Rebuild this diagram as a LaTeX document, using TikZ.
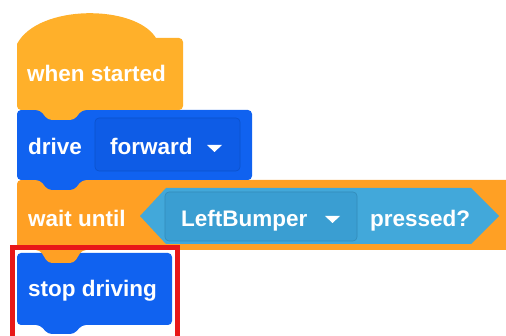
\documentclass[tikz,border=0pt]{standalone}
\usepackage{fontspec}
\setmainfont{Liberation Sans}
\definecolor{hatorange}{RGB}{255,176,42}
\definecolor{ctrlorange}{RGB}{255,160,36}
\definecolor{driveblue}{RGB}{16,98,240}
\definecolor{fieldblue}{RGB}{14,92,230}
\definecolor{boolblue}{RGB}{66,168,218}
\definecolor{boolfield}{RGB}{58,158,210}
\definecolor{markred}{RGB}{232,24,24}
\def\blockfont{\fontsize{22.5}{26}\selectfont\bfseries}

\begin{document}
\begin{tikzpicture}[x=1pt,y=1pt,yscale=-1,
	blocktext/.style={anchor=base west,inner sep=0pt,text=white,font=\blockfont},
	field/.style={rounded corners=4pt,line width=0.6pt}]
		\useasboundingbox (0,0) rectangle (506,336);
		\clip (0,0) rectangle (506,336);
		% stop driving
		\fill [driveblue,rounded corners=4pt] (17,253) -- (172,253) -- (172,325) -- (82,325) -- (74,334) -- (48,334) -- (40,325) -- (17,325) -- cycle ;
		% wait until
		\fill [ctrlorange,rounded corners=4pt] (17,180) -- (530,180) -- (530,250) -- (82,250) -- (74,263) -- (48,263) -- (40,250) -- (17,250) -- cycle ;
		\fill [boolblue] (140,216) -- (166,188) -- (471,188) -- (499,216) -- (471,244) -- (166,244) -- cycle ;
		\filldraw [field,fill=boolfield,draw=boolfield!88!black] (165,192) rectangle (357,241) ;
		\fill [white] (325,216) -- (340,216) -- (332.5,223) -- cycle ;
		% drive
		\fill [driveblue,rounded corners=4pt] (17,110) -- (252,110) -- (252,180) -- (82,180) -- (74,190) -- (48,190) -- (40,180) -- (17,180) -- cycle ;
		\filldraw [field,fill=fieldblue,draw=fieldblue!88!black] (95,118) rectangle (240,171) ;
		\fill [white] (207,145) -- (222,145) -- (214.5,152) -- cycle ;
		% when started
		\fill [hatorange] (17,110) -- (17,44) .. controls (38,4) and (135,4) .. (156,38) [rounded corners=4pt] -- (183,38) -- (183,110) -- (82,110) -- (74,120) -- (48,120) -- (40,110) -- cycle ;
		% labels
		\node [blocktext] (started) at (27,82) {when started};
		\node [blocktext] (drive) at (28,155) {drive};
		\node [blocktext] (forward) at (110,155) {forward};
		\node [blocktext] (wait) at (28,227) {wait until};
		\node [blocktext] (bumper) at (181,227) {LeftBumper};
		\node [blocktext] (pressed) at (370,227) {pressed?};
		\node [blocktext] (stop) at (28,297) {stop driving};
		% highlight
		\draw [markred,line width=5pt] (12.5,248) rectangle (177.5,345) ;
\end{tikzpicture}
\end{document}
